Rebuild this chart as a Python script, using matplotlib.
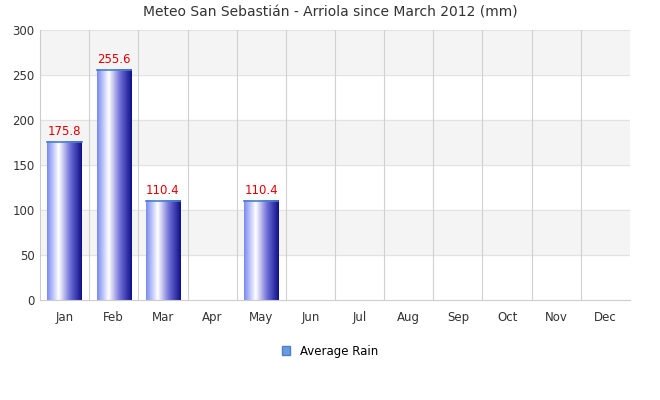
import matplotlib
matplotlib.use("Agg")
import matplotlib.pyplot as plt
import numpy as np
from matplotlib.colors import LinearSegmentedColormap
from matplotlib.patches import Patch

months = ["Jan","Feb","Mar","Apr","May","Jun","Jul","Aug","Sep","Oct","Nov","Dec"]
rain = [175.8, 255.6, 110.4, None, 110.4, None, None, None, None, None, None, None]
title = "Meteo San Sebastián - Arriola since March 2012 (mm)"

fig = plt.figure(figsize=(6.6, 4.0), dpi=100)
ax = fig.add_axes([40/660, 100/400, 590/660, 270/400])
ax.set_xlim(-0.5, 11.5)
ax.set_ylim(0, 300)
for lo in (50, 150, 250):
    ax.axhspan(lo, lo + 50, color="#f4f4f4", zorder=0)
for y in range(50, 301, 50):
    ax.axhline(y, color="#e2e2e2", lw=0.8, zorder=0.5)
for x in np.arange(0.5, 11.5, 1):
    ax.axvline(x, color="#d0d0d0", lw=0.8, zorder=0.5)

cmap = LinearSegmentedColormap.from_list("g", ["#7b8cf0", "#ffffff", "#6e6ed8", "#10108a"])
grad = np.linspace(0, 1, 64).reshape(1, -1)
w = 0.35
for i, v in enumerate(rain):
    if v is None:
        continue
    ax.imshow(grad, cmap=cmap, extent=[i - w, i + w, 0, v], aspect="auto", zorder=2)
    ax.plot([i - w, i + w], [v, v], color="#4a7fd0", lw=1.2, zorder=3)
    ax.text(i, v + 4, f"{v:.1f}", ha="center", va="bottom", color="#e00000", fontsize=8.5, zorder=4)
ax.set_xlim(-0.5, 11.5)
ax.set_ylim(0, 300)

ax.set_xticks(range(12))
ax.set_xticklabels(months)
ax.set_yticks(range(0, 301, 50))
ax.tick_params(length=0, labelsize=8.5, colors="#333333", pad=8)
ax.tick_params(axis="y", pad=4)
for s in ax.spines.values():
    s.set_visible(False)
ax.spines["bottom"].set_visible(True)
ax.spines["bottom"].set_color("#cccccc")
ax.spines["left"].set_visible(True)
ax.spines["left"].set_color("#cccccc")

fig.text(0.5, 1 - 13/400, title, ha="center", va="center", fontsize=10, color="#333333")
fig.legend(handles=[Patch(facecolor="#6a9ad8", edgecolor="#4a7fd0", label="Average Rain")],
           loc="center", bbox_to_anchor=(0.5, 1 - 351/400), frameon=False, fontsize=8.5,
           handlelength=0.7, handleheight=0.7)
fig.savefig("out.png", dpi=100)
